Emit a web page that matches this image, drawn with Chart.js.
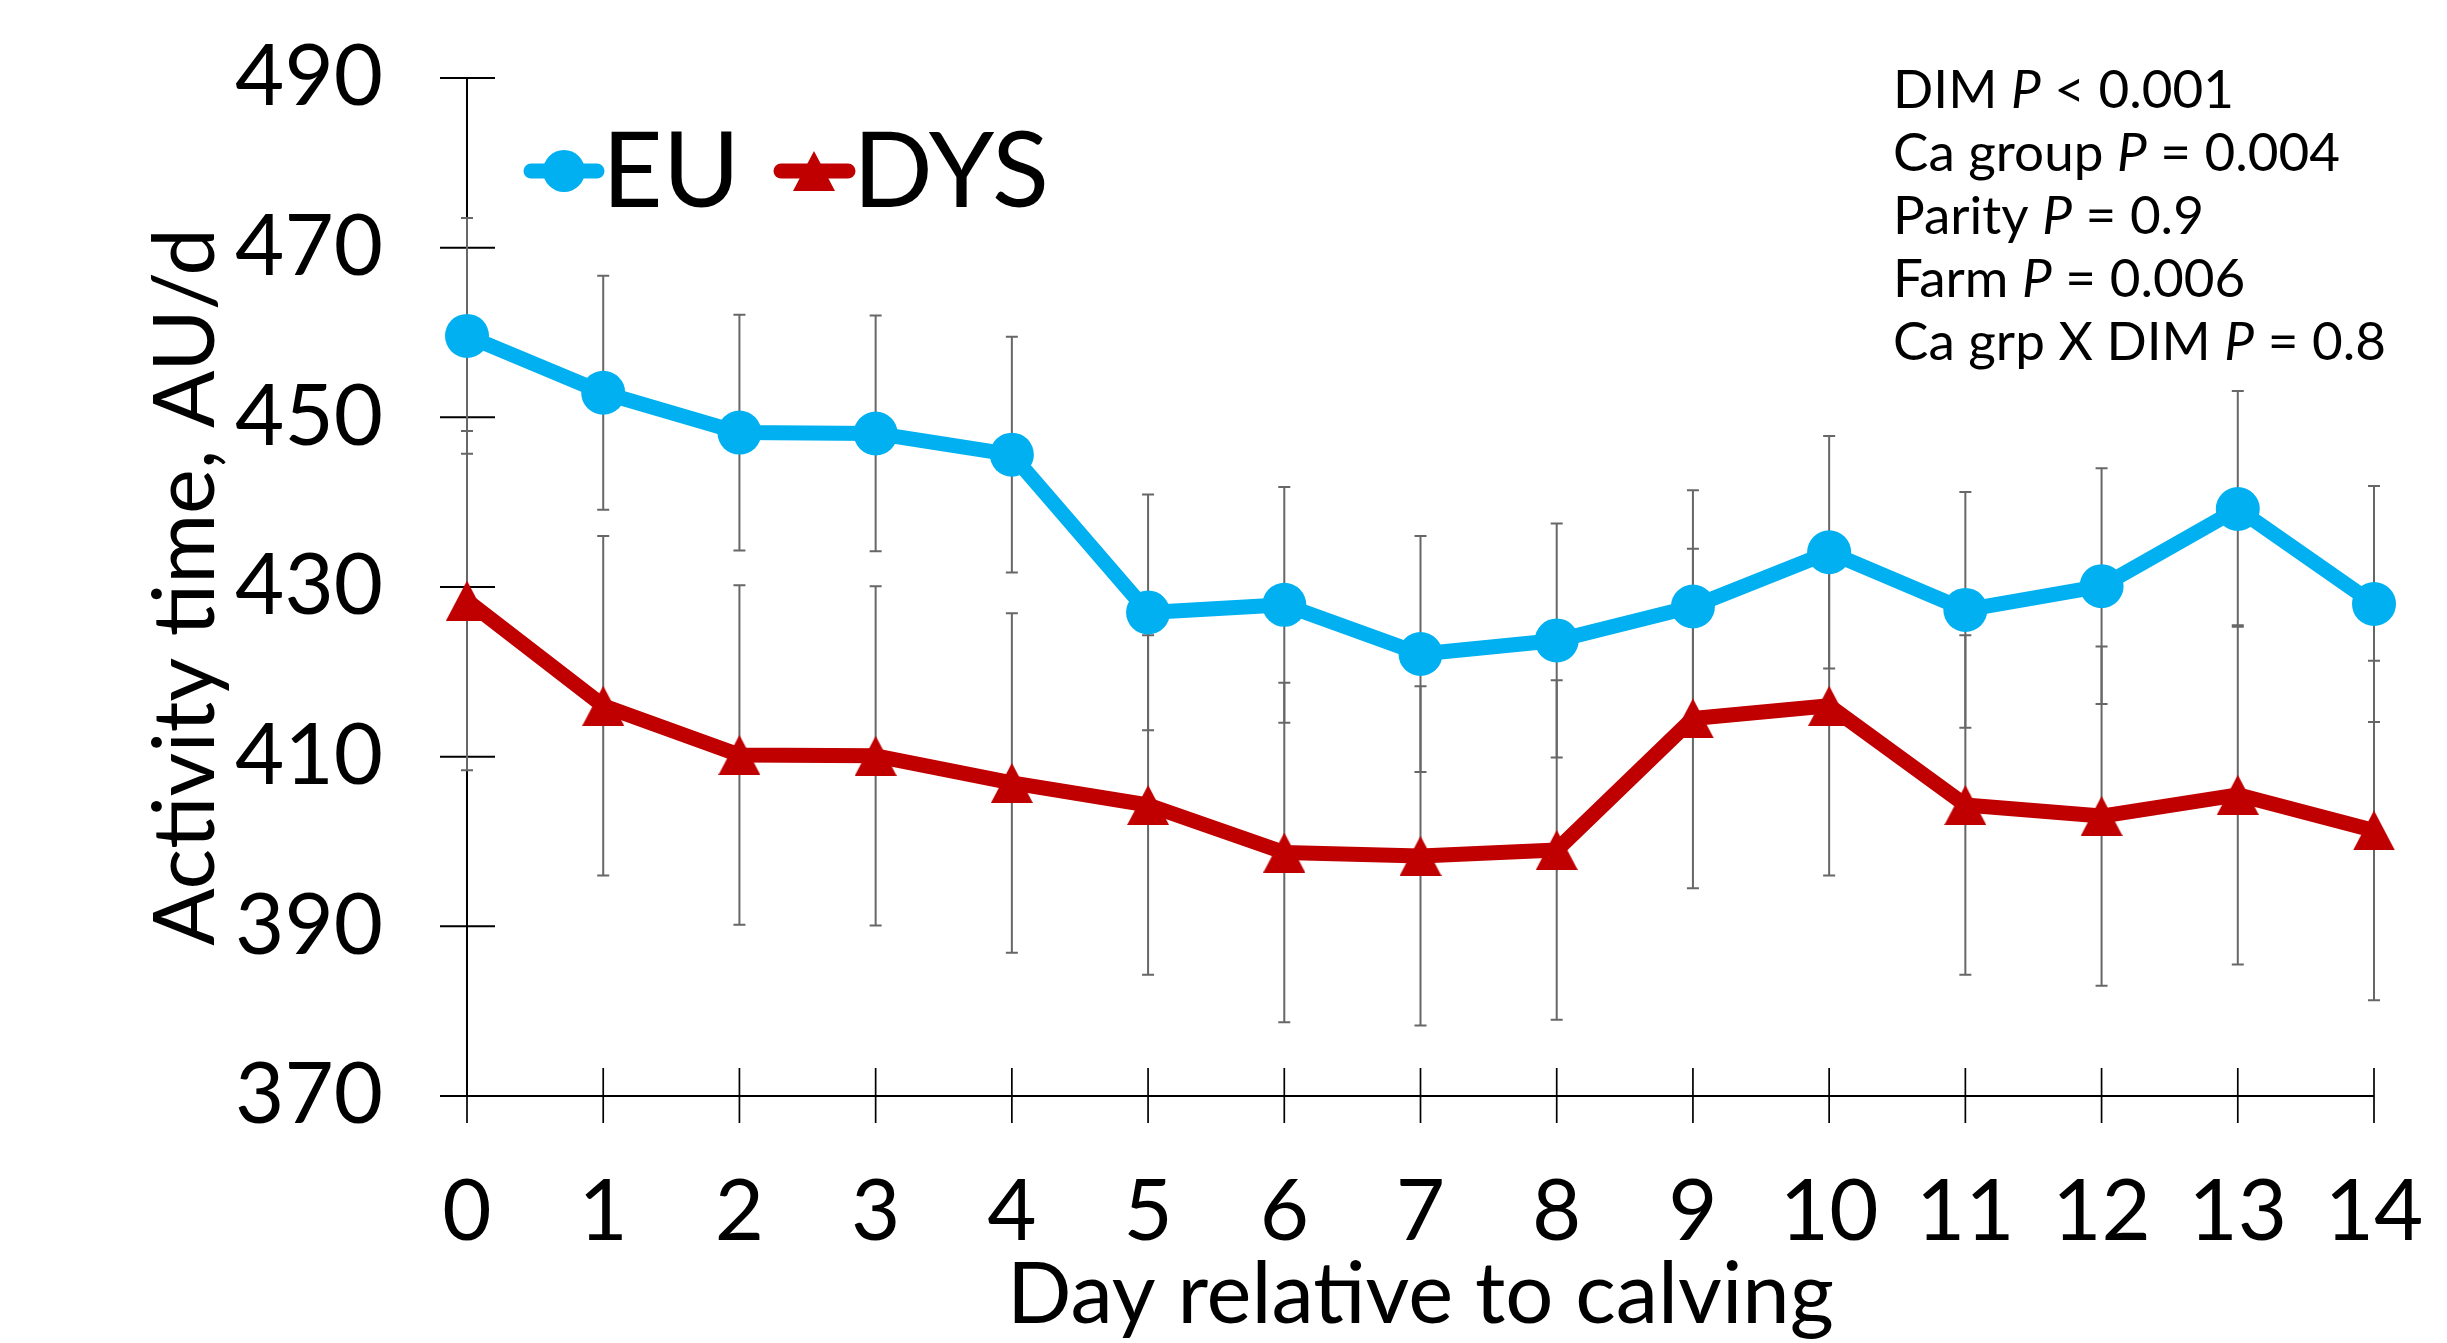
<!DOCTYPE html>
<html>
<head>
<meta charset="utf-8">
<script src="https://cdn.jsdelivr.net/npm/chart.js@4.4.1/dist/chart.umd.min.js"></script>
<style>
  body { margin: 0; background: #fff; }
  #wrap { width: 2447px; height: 1343px; }
</style>
</head>
<body>
<div id="wrap"><canvas id="activityChart" width="2447" height="1343"></canvas></div>
<script>
// chart data
var dayLabels = ['0', '1', '2', '3', '4', '5', '6', '7', '8', '9', '10', '11', '12', '13', '14'];

var euMeans = [459.6, 452.9, 448.2, 448.1, 445.6, 427.0, 427.9, 422.1, 423.7, 427.7, 434.1, 427.3, 430.1, 439.2, 428.0]; // eucalcemic cows
var euErrors = [13.9, 13.8, 13.9, 13.9, 13.9, 13.9, 13.9, 13.9, 13.8, 13.7, 13.7, 13.9, 13.9, 13.9, 13.9];

var dysMeans = [428.4, 416.0, 410.2, 410.1, 406.9, 404.3, 398.7, 398.3, 399.0, 414.5, 416.0, 404.3, 403.0, 405.5, 401.3]; // dyscalcemic cows
var dysErrors = [20.0, 20.0, 20.0, 20.0, 20.0, 20.0, 20.0, 20.0, 20.0, 20.0, 20.0, 20.0, 20.0, 20.0, 20.0];

var yMin = 370;
var yMax = 490;
var yStep = 20;

var seriesNames = ['EU', 'DYS'];

// stats box, middle piece of each line is the italic P
var statLines = [
    ['DIM ', 'P', ' < 0.001'],
    ['Ca group ', 'P', ' = 0.004'],
    ['Parity ', 'P', ' = 0.9'],
    ['Farm ', 'P', ' = 0.006'],
    ['Ca grp X DIM ', 'P', ' = 0.8']
];

var euColor = '#00B0F0';
var dysColor = '#C00000';
var errColor = '#676767';
var fontName = 'Lato';

var errorSets = [euErrors, dysErrors];

// triangle marker as a small canvas so it sits centred on the point
function makeTriangle(w, h, color) {
    var c = document.createElement('canvas');
    c.width = w;
    c.height = h;
    var t = c.getContext('2d');
    t.fillStyle = color;
    t.beginPath();
    t.moveTo(w / 2, 0);
    t.lineTo(w, h);
    t.lineTo(0, h);
    t.closePath();
    t.fill();
    return c;
}
var triMarker = makeTriangle(42, 40, dysColor);

// axes with ticks crossing the axis line
var crossAxes = {
    id: 'crossAxes',
    beforeDatasetsDraw: function (chart) {
        var ctx = chart.ctx;
        var area = chart.chartArea;
        var xs = chart.scales.x;
        var ys = chart.scales.y;
        ctx.save();
        ctx.strokeStyle = '#000';

        ctx.lineWidth = 2;
        ctx.beginPath();
        ctx.moveTo(area.left, area.top);
        ctx.lineTo(area.left, area.bottom);
        ctx.stroke();

        ys.ticks.forEach(function (t) {
            var py = ys.getPixelForValue(t.value);
            ctx.beginPath();
            ctx.moveTo(area.left - 27, py);
            ctx.lineTo(area.left + 28, py);
            ctx.stroke();
        });

        ctx.beginPath();
        ctx.moveTo(area.left - 27, area.bottom);
        ctx.lineTo(area.right, area.bottom);
        ctx.stroke();

        ctx.lineWidth = 1.7;
        for (var i = 0; i < dayLabels.length; i++) {
            var px = xs.getPixelForValue(i);
            ctx.beginPath();
            ctx.moveTo(px, area.bottom - 28);
            ctx.lineTo(px, area.bottom + 27);
            ctx.stroke();
        }
        ctx.restore();
    }
};

// SE bars drawn under the lines
var errorBars = {
    id: 'errorBars',
    beforeDatasetsDraw: function (chart) {
        var ctx = chart.ctx;
        var ys = chart.scales.y;
        ctx.save();
        ctx.strokeStyle = errColor;
        ctx.lineWidth = 2;
        chart.data.datasets.forEach(function (ds, i) {
            var meta = chart.getDatasetMeta(i);
            var errs = errorSets[i];
            meta.data.forEach(function (pt, j) {
                var top = ys.getPixelForValue(ds.data[j] + errs[j]);
                var bot = ys.getPixelForValue(ds.data[j] - errs[j]);
                ctx.beginPath();
                ctx.moveTo(pt.x, top);
                ctx.lineTo(pt.x, bot);
                ctx.moveTo(pt.x - 6, top);
                ctx.lineTo(pt.x + 6, top);
                ctx.moveTo(pt.x - 6, bot);
                ctx.lineTo(pt.x + 6, bot);
                ctx.stroke();
            });
        });
        ctx.restore();
    }
};

// legend (line + marker + name) and the P value box
var legendAndStats = {
    id: 'legendAndStats',
    afterDraw: function (chart) {
        var ctx = chart.ctx;
        ctx.save();

        var legY = 171;
        var items = [
            { x0: 531, x1: 597, cx: 564, color: euColor, textX: 602 },
            { x0: 781, x1: 848, cx: 814, color: dysColor, textX: 853 }
        ];
        items.forEach(function (it, i) {
            ctx.strokeStyle = it.color;
            ctx.lineWidth = 15;
            ctx.lineCap = 'round';
            ctx.beginPath();
            ctx.moveTo(it.x0, legY);
            ctx.lineTo(it.x1, legY);
            ctx.stroke();
            if (i === 0) {
                ctx.fillStyle = it.color;
                ctx.beginPath();
                ctx.arc(it.cx, legY, 21, 0, Math.PI * 2);
                ctx.fill();
            } else {
                ctx.drawImage(triMarker, it.cx - triMarker.width / 2, legY - triMarker.height / 2);
            }
            ctx.fillStyle = '#000';
            ctx.font = '105px ' + fontName;
            ctx.textBaseline = 'alphabetic';
            ctx.textAlign = 'left';
            ctx.fillText(seriesNames[i], it.textX, 207);
        });

        var sx = 1893;
        var sy = 108;
        statLines.forEach(function (parts) {
            var x = sx;
            parts.forEach(function (p, k) {
                ctx.font = (k === 1 ? 'italic ' : '') + '53px ' + fontName;
                ctx.fillText(p, x, sy);
                x += ctx.measureText(p).width;
            });
            sy += 63;
        });
        ctx.restore();
    }
};

var chartEl = document.getElementById('activityChart');

var activityChart = new Chart(chartEl, {
    type: 'line',
    data: {
        labels: dayLabels,
        datasets: [
            {
                label: seriesNames[0],
                data: euMeans,
                borderColor: euColor,
                backgroundColor: euColor,
                borderWidth: 15,
                borderJoinStyle: 'round',
                tension: 0,
                pointStyle: 'circle',
                pointRadius: 22,
                pointBorderWidth: 0,
                pointBackgroundColor: euColor
            },
            {
                label: seriesNames[1],
                data: dysMeans,
                borderColor: dysColor,
                backgroundColor: dysColor,
                borderWidth: 15,
                borderJoinStyle: 'round',
                tension: 0,
                pointStyle: triMarker,
                pointRadius: 21,
                pointBorderWidth: 0,
                pointBackgroundColor: dysColor
            }
        ]
    },
    options: {
        responsive: false,
        animation: false,
        devicePixelRatio: 1,
        layout: { padding: { left: 0, top: 78, right: 73, bottom: 0 } },
        plugins: {
            legend: { display: false },
            tooltip: { enabled: false }
        },
        scales: {
            x: {
                type: 'category',
                offset: false,
                grid: { display: false },
                border: { display: false },
                ticks: {
                    autoSkip: false,
                    maxRotation: 0,
                    padding: 58,
                    color: '#000',
                    font: { family: fontName, size: 85 }
                },
                title: {
                    display: true,
                    text: 'Day relative to calving',
                    color: '#000',
                    font: { family: fontName, size: 85, lineHeight: 1 },
                    padding: { top: 0, bottom: 5 }
                },
                afterFit: function (s) {
                    s.height = 247;
                    s.paddingLeft = 0;
                    s.paddingRight = 0;
                }
            },
            y: {
                min: yMin,
                max: yMax,
                grid: { display: false },
                border: { display: false },
                ticks: {
                    stepSize: yStep,
                    padding: 76,
                    color: '#000',
                    font: { family: fontName, size: 85 }
                },
                title: {
                    display: true,
                    text: 'Activity time, AU/d',
                    color: '#000',
                    font: { family: fontName, size: 85, lineHeight: 1 },
                    padding: { top: 144, bottom: 0 }
                },
                afterFit: function (s) {
                    s.width = 467;
                    s.paddingTop = 0;
                    s.paddingBottom = 0;
                }
            }
        }
    },
    plugins: [crossAxes, errorBars, legendAndStats]
});
</script>
</body>
</html>
